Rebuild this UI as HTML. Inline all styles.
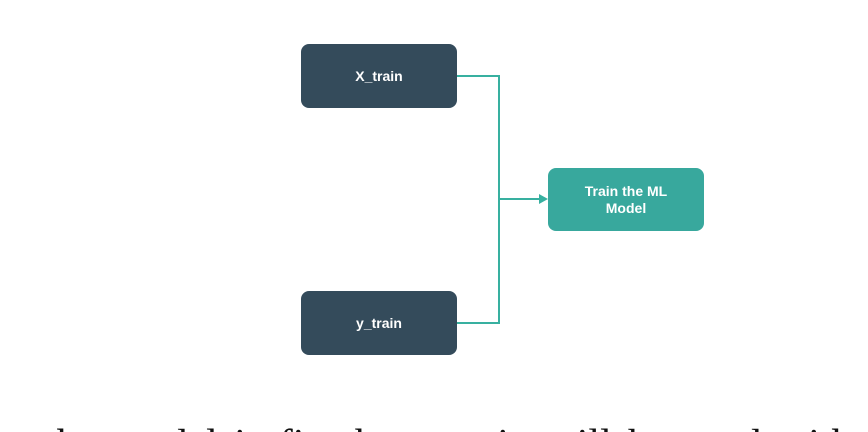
<!DOCTYPE html>
<html><head><style>
html,body{margin:0;width:868px;height:432px;overflow:hidden}
body{background:#fff;position:relative;font-family:"Liberation Sans",sans-serif}
.b{position:absolute;border-radius:8px;color:#fff;font-weight:bold;font-size:14px;display:flex;align-items:center;justify-content:center;text-align:center;line-height:17px}
.d{background:#344b5b}
.t{background:#38a89d}
.bot{position:absolute;left:45px;top:424px;width:823px;height:8px;overflow:hidden;font-family:"Liberation Serif",serif;font-size:42px;line-height:42px;word-spacing:6px;white-space:nowrap;color:#111}
</style></head><body>
<svg width="868" height="432" style="position:absolute;left:0;top:0">
<polyline points="457,76 499,76 499,323 457,323" fill="none" stroke="#38b0a0" stroke-width="2"/>
<line x1="499" y1="199" x2="540" y2="199" stroke="#38b0a0" stroke-width="2"/>
<polygon points="539,194 548,199 539,204" fill="#38b0a0"/>
</svg>
<div class="b d" style="left:301px;top:44px;width:156px;height:64px">X_train</div>
<div class="b d" style="left:301px;top:291px;width:156px;height:64px">y_train</div>
<div class="b t" style="left:548px;top:168px;width:156px;height:63px">Train the ML<br>Model</div>
<div class="bot">the model is fit, the x_train will be used with the</div>
</body></html>
